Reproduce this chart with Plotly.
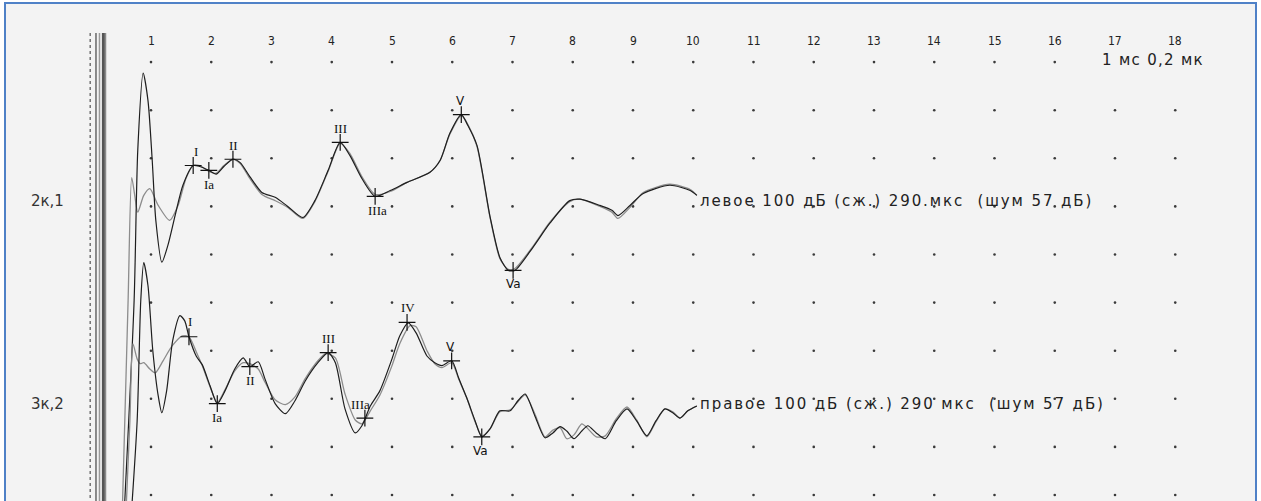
import plotly.graph_objects as go

# ---------------- data (time in ms, amplitude in grid divisions) ----------------
up_black_t = [0.55, 0.72, 0.78, 0.87, 0.95, 1.02, 1.08, 1.18, 1.28, 1.40, 1.53, 1.70, 1.81, 1.96, 2.08,
              2.21, 2.36, 2.48, 2.64, 2.84, 3.06, 3.27, 3.52, 3.72, 3.94, 4.14, 4.30, 4.50, 4.72, 4.97,
              5.25, 5.63, 5.80, 5.96, 6.15, 6.26, 6.41, 6.63, 6.79, 6.93, 7.04, 7.34, 7.62, 7.95, 8.12,
              8.45, 8.65, 8.75, 8.95, 9.17, 9.61, 9.95, 10.06]
up_black_a = [-6.5, -1.95, 1.16, 2.77, 2.2, 0.96, -0.29, -1.16, -0.81, -0.19, 0.44, 0.85, 0.83, 0.75, 0.67,
              0.83, 0.98, 0.91, 0.62, 0.29, 0.19, 0.0, -0.23, 0.12, 0.75, 1.33, 1.06, 0.58, 0.21, 0.33,
              0.50, 0.71, 0.96, 1.52, 1.91, 1.68, 1.27, -0.23, -1.06, -1.33, -1.33, -0.85, -0.35, 0.12, 0.15,
              0.02, -0.08, -0.19, 0.02, 0.27, 0.44, 0.33, 0.23]

up_gray_t = [0.52, 0.62, 0.68, 0.73, 0.78, 0.88, 0.98, 1.12, 1.31, 1.45, 1.58, 1.70, 1.81, 1.96, 2.08,
             2.21, 2.36, 2.48, 2.64, 2.84, 3.06, 3.27, 3.52, 3.72, 3.94, 4.14, 4.30, 4.50, 4.72, 4.97,
             5.25, 5.63, 5.80, 5.96, 6.15, 6.26, 6.41, 6.63, 6.79, 6.93, 7.04, 7.34, 7.62, 7.95, 8.12,
             8.45, 8.65, 8.75, 8.95, 9.17, 9.61, 9.95, 10.06]
up_gray_a = [-6.5, -1.95, 0.60, 0.23, -0.12, 0.23, 0.37, 0.02, -0.29, 0.02, 0.58, 0.85, 0.85, 0.73, 0.69,
             0.85, 0.98, 0.89, 0.58, 0.25, 0.12, -0.02, -0.25, 0.10, 0.73, 1.31, 1.10, 0.62, 0.25, 0.31,
             0.50, 0.71, 0.96, 1.50, 1.89, 1.70, 1.25, -0.25, -1.08, -1.31, -1.29, -0.83, -0.33, 0.10, 0.15,
             0.00, -0.12, -0.25, -0.02, 0.29, 0.46, 0.35, 0.23]

lo_black_t = [0.62, 0.77, 0.83, 0.88, 0.95, 1.03, 1.12, 1.18, 1.26, 1.36, 1.48, 1.56, 1.63, 1.75, 1.85,
              1.98, 2.10, 2.23, 2.39, 2.53, 2.64, 2.78, 2.89, 3.06, 3.23, 3.39, 3.56, 3.77, 3.94, 4.06,
              4.22, 4.39, 4.50, 4.64, 4.80, 5.00, 5.13, 5.27, 5.40, 5.58, 5.71, 5.83, 5.99, 6.11, 6.24,
              6.38, 6.49, 6.63, 6.79, 6.96, 7.09, 7.21, 7.37, 7.54, 7.67, 7.79, 7.90, 8.02, 8.15, 8.25,
              8.39, 8.54, 8.72, 8.90, 9.06, 9.23, 9.38, 9.53, 9.66, 9.78, 9.91, 10.06]
lo_black_a = [-3.37, -0.46, 2.04, 2.83, 2.35, 1.00, 0.06, -0.29, 0.17, 1.21, 1.73, 1.62, 1.29, 0.89, 0.71,
              0.27, -0.10, 0.17, 0.62, 0.85, 0.67, 0.77, 0.42, -0.10, -0.31, -0.04, 0.37, 0.75, 0.96, 0.75,
              -0.21, -0.71, -0.56, -0.15, 0.17, 0.83, 1.31, 1.58, 1.37, 0.89, 0.75, 0.69, 0.79, 0.42, 0.02,
              -0.46, -0.79, -0.62, -0.25, -0.25, -0.04, 0.10, -0.35, -0.81, -0.71, -0.58, -0.67, -0.83, -0.67, -0.56,
              -0.71, -0.83, -0.46, -0.21, -0.46, -0.77, -0.46, -0.21, -0.29, -0.40, -0.25, -0.15]

lo_gray_t = [0.55, 0.65, 0.70, 0.77, 0.82, 0.88, 0.98, 1.07, 1.20, 1.35, 1.52, 1.63, 1.75, 1.85, 1.98,
             2.10, 2.23, 2.39, 2.53, 2.64, 2.78, 2.89, 3.06, 3.23, 3.39, 3.56, 3.77, 3.90, 4.06, 4.22,
             4.39, 4.50, 4.64, 4.80, 5.00, 5.13, 5.30, 5.40, 5.58, 5.71, 5.83, 5.99, 6.11, 6.24, 6.38,
             6.49, 6.63, 6.79, 6.96, 7.09, 7.21, 7.37, 7.54, 7.67, 7.79, 7.90, 8.02, 8.15, 8.25, 8.39,
             8.54, 8.72, 8.90, 9.06, 9.23, 9.38, 9.53, 9.66, 9.78, 9.91, 10.06]
lo_gray_a = [-3.37, -0.46, 1.14, 0.83, 0.73, 0.75, 0.62, 0.54, 0.79, 1.10, 1.31, 1.29, 0.98, 0.69, 0.25,
             -0.08, 0.19, 0.58, 0.75, 0.73, 0.62, 0.35, -0.02, -0.12, 0.04, 0.42, 0.79, 0.94, 0.85, 0.10,
             -0.44, -0.52, -0.25, 0.08, 0.69, 1.15, 1.52, 1.50, 1.00, 0.73, 0.65, 0.75, 0.40, 0.02, -0.48,
             -0.77, -0.62, -0.27, -0.23, -0.06, 0.08, -0.31, -0.79, -0.65, -0.60, -0.83, -0.75, -0.52, -0.62, -0.79,
             -0.77, -0.42, -0.17, -0.44, -0.79, -0.48, -0.21, -0.27, -0.40, -0.25, -0.15]

up_peaks = ["I", "Ia", "II", "III", "IIIa", "V", "Va"]
up_peak_t = [1.70, 1.96, 2.36, 4.14, 4.72, 6.15, 7.01]
up_peak_a = [0.85, 0.75, 0.98, 1.33, 0.21, 1.91, -1.33]

lo_peaks = ["I", "Ia", "II", "III", "IIIa", "IV", "V", "Va"]
lo_peak_t = [1.63, 2.10, 2.64, 3.94, 4.55, 5.25, 5.99, 6.49]
lo_peak_a = [1.29, -0.10, 0.67, 0.96, -0.40, 1.59, 0.79, -0.79]

tick_labels = ["1", "2", "3", "4", "5", "6", "7", "8", "9", "10", "11", "12", "13", "14", "15", "16", "17", "18"]
tick_ms = [1, 2, 3, 4, 5, 6, 7, 8, 9, 10, 11, 12, 13, 14, 15, 16, 17, 18]
grid_rows = [0, 1, 2, 3, 4, 5, 6, 7, 8, 9]

channel_names = ["2к,1", "3к,2"]
channel_desc = ["левое 100 дБ (сж.) 290.мкс  (шум 57 дБ)", "правое 100 дБ (сж.) 290 мкс  (шум 57 дБ)"]
scale_text = "1 мс 0,2 мк"

# ---------------- layout parameters ----------------
UP_BASE = 6
LO_BASE = 2
W, H = 1261, 501
PX_PER_MS = 60.25
X0_PX = 90.75
PX_PER_DIV = 48.1
Y0_PX = 495
x_range = [(0 - X0_PX) / PX_PER_MS, (W - X0_PX) / PX_PER_MS]
y_range = [(Y0_PX - H) / PX_PER_DIV, (Y0_PX - 0) / PX_PER_DIV]

fig = go.Figure()

# grid dots
dx, dy = [], []
for r in grid_rows:
    for m in tick_ms:
        if r == 9 and m >= 17:
            continue
        dx.append(m)
        dy.append(r)
fig.add_trace(go.Scatter(x=dx, y=dy, mode="markers",
                         marker=dict(size=2.6, color="#3a3a3a"), hoverinfo="skip"))

# stimulus artifact lines at the start
art_x = [-0.01, 0.087, 0.145, 0.21, 0.245]
art_style = [("#333333", 1, "dot"), ("#222222", 1, "solid"), ("#9a9a9a", 1.5, "solid"),
             ("#555555", 3, "solid"), ("#8a8a8a", 1.5, "solid")]
y_top = (Y0_PX - 33) / PX_PER_DIV
for ax_, (c, w, d) in zip(art_x, art_style):
    fig.add_trace(go.Scatter(x=[ax_, ax_], y=[y_top, y_range[0] - 1], mode="lines",
                             line=dict(color=c, width=w, dash=d), hoverinfo="skip"))

# waveforms
def add_wave(t, a, base, color, width):
    fig.add_trace(go.Scatter(x=t, y=[v + base for v in a], mode="lines",
                             line=dict(color=color, width=width, shape="spline", smoothing=0.7),
                             hoverinfo="skip"))

add_wave(up_gray_t, up_gray_a, UP_BASE, "#8c8c8c", 1.3)
add_wave(up_black_t, up_black_a, UP_BASE, "#1e1e1e", 1.2)
add_wave(lo_gray_t, lo_gray_a, LO_BASE, "#8c8c8c", 1.3)
add_wave(lo_black_t, lo_black_a, LO_BASE, "#1e1e1e", 1.2)

# peak markers
for t, a, base in [(up_peak_t, up_peak_a, UP_BASE), (lo_peak_t, lo_peak_a, LO_BASE)]:
    fig.add_trace(go.Scatter(x=t, y=[v + base for v in a], mode="markers",
                             marker=dict(symbol="cross-thin", size=12,
                                         line=dict(width=1.2, color="#111111")),
                             hoverinfo="skip"))

annotations = []
up_shift = [(3, 14), (0, -14), (1, 14), (0, 14), (2, -14), (-1, 14), (0, -14)]
lo_shift = [(1, 15), (0, -14), (1, -14), (0, 14), (-4, 14), (1, 15), (-1, 14), (-1, -14)]
for names, t, a, base, shifts in [(up_peaks, up_peak_t, up_peak_a, UP_BASE, up_shift),
                                  (lo_peaks, lo_peak_t, lo_peak_a, LO_BASE, lo_shift)]:
    for n, tt, aa, (sx, sy) in zip(names, t, a, shifts):
        sans = n.startswith("V")
        annotations.append(dict(x=tt, y=aa + base, text=n, showarrow=False,
                                xshift=sx, yshift=sy,
                                font=dict(family="DejaVu Sans" if sans else "Liberation Serif",
                                          size=12 if sans else 13, color="#111111")))

# tick numbers
for lab, m in zip(tick_labels, tick_ms):
    annotations.append(dict(x=m, y=(Y0_PX - 41) / PX_PER_DIV, text=lab, showarrow=False,
                            font=dict(family="DejaVu Sans Condensed", size=12, color="#222222")))

# channel names and descriptions
def spaced(s, px):
    return '<span style="letter-spacing:%spx">%s</span>' % (px, s)

for name, desc, base, dy_ in [(channel_names[0], channel_desc[0], UP_BASE, 0.12),
                              (channel_names[1], channel_desc[1], LO_BASE, -0.1)]:
    annotations.append(dict(x=(47 - X0_PX) / PX_PER_MS, y=base + dy_, text=name, showarrow=False,
                            font=dict(family="DejaVu Sans", size=15, color="#333333")))
    annotations.append(dict(x=10.08, y=base + dy_, text=spaced(desc, 1.9), showarrow=False,
                            xanchor="left",
                            font=dict(family="DejaVu Sans", size=15, color="#222222")))

annotations.append(dict(x=(1100 - X0_PX) / PX_PER_MS, y=9.04, text=spaced(scale_text, 1.3),
                        showarrow=False, xanchor="left",
                        font=dict(family="DejaVu Sans", size=15, color="#222222")))

fig.update_layout(
    width=W, height=H,
    margin=dict(l=0, r=0, t=0, b=0),
    paper_bgcolor="#ffffff",
    plot_bgcolor="rgba(0,0,0,0)",
    showlegend=False,
    xaxis=dict(range=x_range, visible=False, fixedrange=True),
    yaxis=dict(range=y_range, visible=False, fixedrange=True),
    annotations=annotations,
    shapes=[dict(type="rect", xref="paper", yref="paper",
                 x0=5 / W, x1=1256 / W, y0=-0.02, y1=1 - 3 / H,
                 fillcolor="#f3f3f3", line=dict(color="#4f81c7", width=2), layer="below")],
)

fig.write_html("out.html", config={"displayModeBar": False},
               post_script="document.body.style.margin='0px';document.body.style.overflow='hidden';")
